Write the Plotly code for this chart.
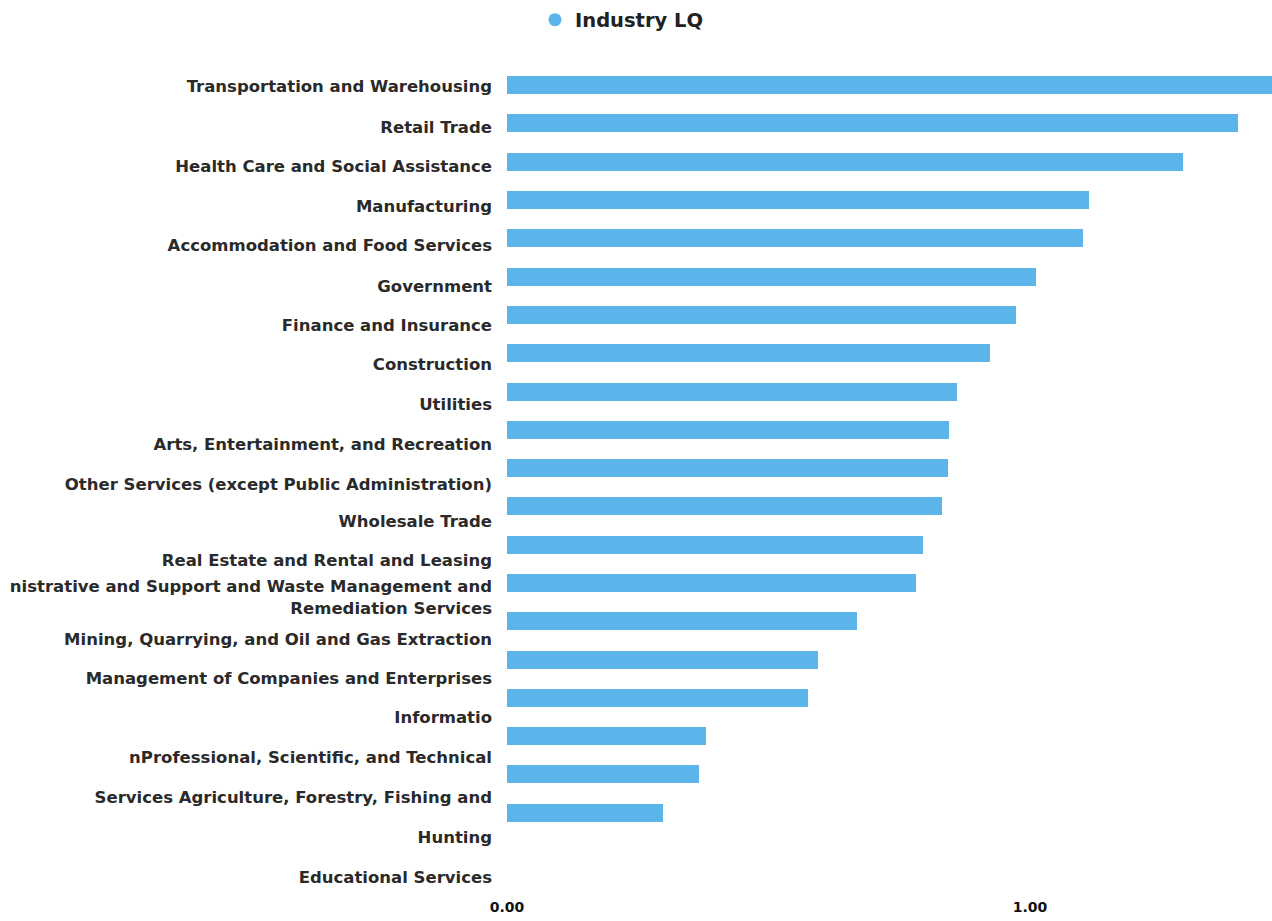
import plotly.graph_objects as go

# Bar values (Industry LQ), top to bottom
bar_values = [1.49, 1.398, 1.293, 1.113, 1.101, 1.011, 0.973, 0.923, 0.860, 0.845,
              0.843, 0.832, 0.795, 0.782, 0.669, 0.595, 0.576, 0.380, 0.367, 0.298]
bar_index = list(range(len(bar_values)))

# Tick labels as they appear (offset from the bars in the original)
tick_labels = [
    "Transportation and Warehousing",
    "Retail Trade",
    "Health Care and Social Assistance",
    "Manufacturing",
    "Accommodation and Food Services",
    "Government",
    "Finance and Insurance",
    "Construction",
    "Utilities",
    "Arts, Entertainment, and Recreation",
    "Other Services (except Public Administration)",
    "Wholesale Trade",
    "Real Estate and Rental and Leasing",
    "nistrative and Support and Waste Management and<br>Remediation Services",
    "Mining, Quarrying, and Oil and Gas Extraction",
    "Management of Companies and Enterprises",
    "Informatio",
    "nProfessional, Scientific, and Technical",
    "Services Agriculture, Forestry, Fishing and",
    "Hunting",
    "Educational Services",
]
tick_positions = [0.03, 1.10, 2.11, 3.16, 4.18, 5.25, 6.27, 7.28, 8.33, 9.37, 10.42,
                  11.38, 12.40, 13.37, 14.46, 15.48, 16.50, 17.55, 18.59, 19.63, 20.68]

series_name = "Industry LQ"
bar_color = "#5BB5EA"

fig = go.Figure()
fig.add_trace(go.Bar(
    x=bar_values, y=bar_index, orientation="h",
    marker=dict(color=bar_color, line=dict(width=0)),
    width=0.47, showlegend=False, name=series_name,
))
# legend entry with a round marker
fig.add_trace(go.Scatter(
    x=[None], y=[None], mode="markers", name=series_name,
    marker=dict(symbol="circle", size=13, color=bar_color),
))

fig.update_layout(
    width=1272, height=921,
    margin=dict(l=507, r=0, t=66, b=24, autoexpand=False),
    paper_bgcolor="white", plot_bgcolor="white",
    font=dict(family="DejaVu Sans", size=16.5, color="#2a2a2a"),
    legend=dict(orientation="h", x=0.0366, xanchor="left", y=1.0554, yanchor="middle",
                font=dict(size=19.5, color="#222222", weight="bold"),
                itemsizing="trace"),
    xaxis=dict(range=[0, 1.4627], tickvals=[0, 1], tickformat=".2f",
               showgrid=False, zeroline=False, showline=False,
               tickfont=dict(size=14, weight="bold", color="#111111"), ticks=""),
    yaxis=dict(range=[21.2, -0.5], tickvals=tick_positions, ticktext=tick_labels,
               showgrid=False, zeroline=False, showline=False, ticks="",
               tickfont=dict(weight="bold"),
               ticklabelstandoff=14),
    bargap=0,
)

fig.write_html(
    "out.html",
    config={"displayModeBar": False},
    post_script="document.body.style.margin='0';document.body.style.overflow='hidden';",
)
